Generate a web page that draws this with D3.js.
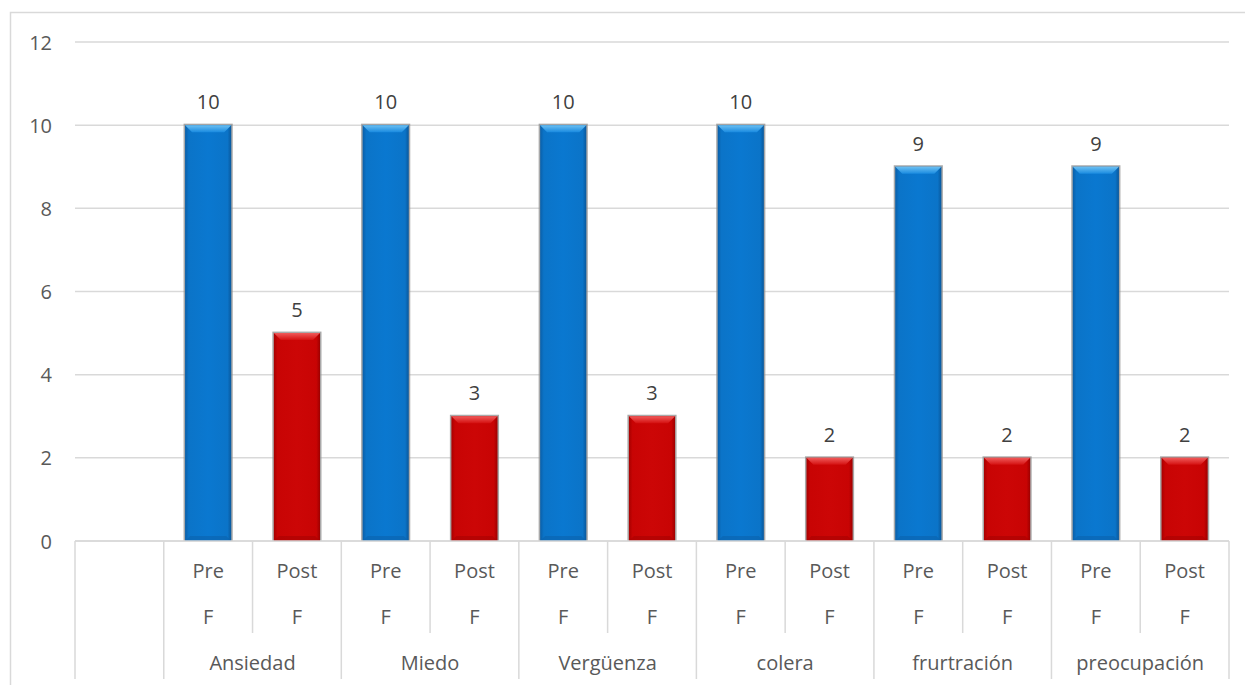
<!DOCTYPE html>
<html>
<head>
<meta charset="utf-8">
<script src="https://cdn.jsdelivr.net/npm/d3@7"></script>
<style>
  html, body { margin: 0; padding: 0; background: #fff; }
  svg { display: block; }
  text { font-family: "Open Sans", "Noto Sans", sans-serif; }
</style>
</head>
<body>
<svg id="chart" width="1245" height="685"></svg>
<script>
const categories = ["Ansiedad", "Miedo", "Vergüenza", "colera", "frurtración", "preocupación"];
const phaseLines = [["Pre", "F"], ["Post", "F"]];
const preValues = [10, 10, 10, 10, 9, 9];
const postValues = [5, 3, 3, 2, 2, 2];
const yTicks = [0, 2, 4, 6, 8, 10, 12];

(function () {
const svg = d3.select("#chart");
const W = 1245, H = 685;
const pLeft = 75, pRight = 1229, pTop = 42, pBottom = 541;
const FS = 20;

// chart border
svg.append("rect").attr("x", 10.5).attr("y", 12.5).attr("width", W).attr("height", H)
  .attr("fill", "#fff").attr("stroke", "#D9D9D9").attr("stroke-width", 1.5);

// slots: a blank one then category x phase
const slots = [{key: "blank"}];
categories.forEach((c, ci) => {
  slots.push({key: c + "|pre", cat: c, ci, phase: 0, value: preValues[ci]});
  slots.push({key: c + "|post", cat: c, ci, phase: 1, value: postValues[ci]});
});

const x = d3.scaleBand().domain(slots.map(d => d.key)).range([pLeft, pRight]).padding(0);
const y = d3.scaleLinear().domain([0, 12]).range([pBottom, pTop]);

// gridlines
svg.append("g").selectAll("line").data(yTicks).join("line")
  .attr("x1", pLeft).attr("x2", pRight)
  .attr("y1", d => y(d)).attr("y2", d => y(d))
  .attr("stroke", "#D9D9D9").attr("stroke-width", 1.5);

// y axis labels
const yAxis = d3.axisLeft(y).tickValues(yTicks).tickSize(0).tickPadding(0);
const yg = svg.append("g").attr("transform", `translate(${pLeft - 23},0)`).call(yAxis);
yg.select(".domain").remove();
yg.selectAll("text").attr("font-size", FS).attr("fill", "#595959")
  .attr("font-family", "'Open Sans', sans-serif").attr("dy", "0.35em");

// gradients
const defs = svg.append("defs");
function grad(id, stops, horiz) {
  const g = defs.append("linearGradient").attr("id", id)
    .attr("x1", 0).attr("y1", 0).attr("x2", horiz ? 1 : 0).attr("y2", horiz ? 0 : 1);
  stops.forEach(s => g.append("stop").attr("offset", s[0]).attr("stop-color", s[1]));
}
grad("blueBody", [[0, "#0A5FA8"], [0.08, "#0B74C8"], [0.5, "#0A78D0"], [0.92, "#0B74C8"], [1, "#09589C"]], true);
grad("redBody", [[0, "#A80000"], [0.08, "#C80404"], [0.5, "#CC0606"], [0.92, "#C80404"], [1, "#9E0000"]], true);
grad("blueTop", [[0, "#6CC0F2"], [1, "#1A8BE0"]], false);
grad("redTop", [[0, "#F05A5A"], [1, "#D41010"]], false);

const barData = slots.filter(d => d.key !== "blank");
const bw = x.bandwidth() * 0.52;

const bars = svg.append("g").selectAll("g").data(barData).join("g")
  .attr("transform", d => `translate(${x(d.key) + (x.bandwidth() - bw) / 2},0)`);

// shadow/outline
bars.append("rect")
  .attr("x", -1.5).attr("y", d => y(d.value) - 1.5)
  .attr("width", bw + 3).attr("height", d => y(0) - y(d.value) + 1.5)
  .attr("fill", "#8C8C8C").attr("opacity", 0.75);
bars.append("rect")
  .attr("x", 0).attr("y", d => y(d.value))
  .attr("width", bw).attr("height", d => y(0) - y(d.value))
  .attr("fill", d => d.phase === 0 ? "url(#blueBody)" : "url(#redBody)");
// top bevel
bars.append("path")
  .attr("d", d => {
    const t = y(d.value), b = 7;
    return `M0,${t}L${bw},${t}L${bw - b},${t + b}L${b},${t + b}Z`;
  })
  .attr("fill", d => d.phase === 0 ? "url(#blueTop)" : "url(#redTop)");
// bottom bevel
bars.append("path")
  .attr("d", d => {
    const bt = y(0), b = 5;
    return `M0,${bt}L${bw},${bt}L${bw - b},${bt - b}L${b},${bt - b}Z`;
  })
  .attr("fill", d => d.phase === 0 ? "#0A62AE" : "#A80202").attr("opacity", 0.6);

// data labels
svg.append("g").selectAll("text").data(barData).join("text")
  .attr("x", d => x(d.key) + x.bandwidth() / 2)
  .attr("y", d => y(d.value) - 16)
  .attr("text-anchor", "middle").attr("font-size", FS).attr("fill", "#404040")
  .text(d => d.value);

// axis table
const lineColor = "#D9D9D9";
const ax = svg.append("g");
ax.append("line").attr("x1", pLeft).attr("x2", pRight).attr("y1", pBottom).attr("y2", pBottom)
  .attr("stroke", lineColor).attr("stroke-width", 1.5);
// slot boundaries
const boundaries = slots.map((d, i) => ({x: x(d.key), i}));
boundaries.push({x: pRight, i: slots.length});
ax.selectAll("line.b").data(boundaries).join("line").attr("class", "b")
  .attr("x1", d => d.x).attr("x2", d => d.x)
  .attr("y1", pBottom)
  .attr("y2", d => (d.i % 2 === 1 || d.i === 0 || d.i === slots.length) ? 679 : 633)
  .attr("stroke", lineColor).attr("stroke-width", 1.5);

// tick labels (two lines)
const tl = ax.selectAll("g.tl").data(barData).join("g").attr("class", "tl");
tl.append("text")
  .attr("x", d => x(d.key) + x.bandwidth() / 2).attr("y", 578)
  .attr("text-anchor", "middle").attr("font-size", FS).attr("fill", "#595959")
  .text(d => phaseLines[d.phase][0]);
tl.append("text")
  .attr("x", d => x(d.key) + x.bandwidth() / 2).attr("y", 624)
  .attr("text-anchor", "middle").attr("font-size", FS).attr("fill", "#595959")
  .text(d => phaseLines[d.phase][1]);

// category labels
ax.selectAll("text.cat").data(categories).join("text").attr("class", "cat")
  .attr("x", (c, i) => x(c + "|pre") + x.bandwidth())
  .attr("y", 670)
  .attr("text-anchor", "middle").attr("font-size", FS).attr("fill", "#595959")
  .text(d => d);
})();
</script>
</body>
</html>
